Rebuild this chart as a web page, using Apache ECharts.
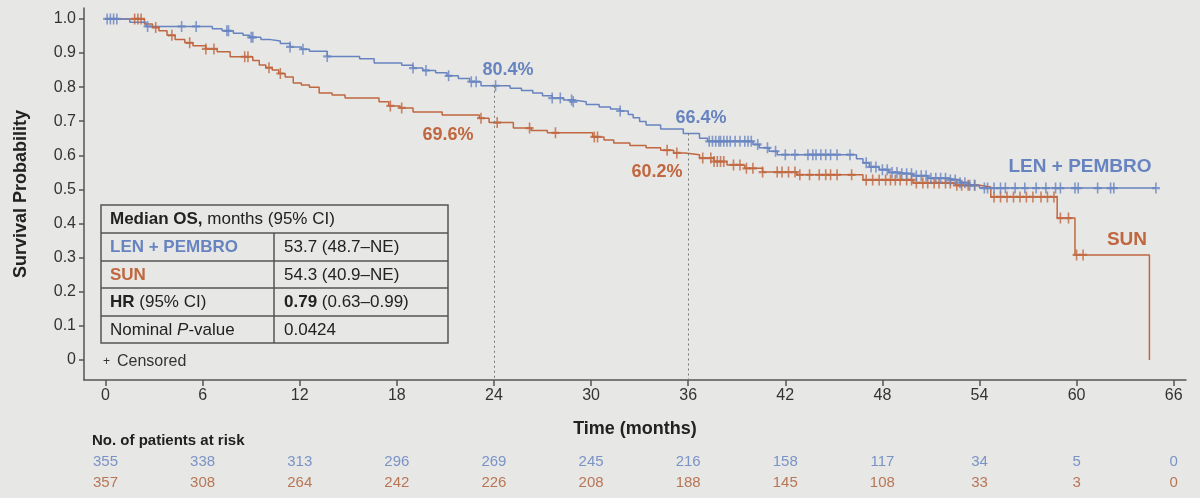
<!DOCTYPE html>
<html>
<head>
<meta charset="utf-8">
<script src="https://cdn.jsdelivr.net/npm/echarts@6/dist/echarts.min.js"></script>
<style>
  html, body { margin: 0; padding: 0; background: #e7e7e5; }
  #main { width: 1200px; height: 498px; }
</style>
</head>
<body>
<div id="main"></div>
<script>
// Kaplan-Meier OS: LEN + PEMBRO vs SUN
var BLUE = '#6884c0';
var RED = '#c0673f';
var FONT = '"Liberation Sans", Arial, sans-serif';

// step points (time in months, survival probability)
var lenTime = [0, 1.5, 2.5, 6.6, 7.2, 7.9, 8.5, 8.9, 9.6, 10.1, 10.8, 11.4, 12.1, 12.6, 13.7, 15.7, 16.6, 18.3, 19.0, 19.6,
  20.4, 21.1, 21.8, 22.5, 23.2, 25.0, 25.7, 26.4, 27.0, 27.6, 28.3, 28.9, 29.7, 30.5, 31.2, 31.8, 32.3, 32.6, 33.0, 33.4,
  34.3, 35.7, 36.7, 37.2, 40.0, 40.4, 41.0, 41.5, 46.4, 46.8, 47.2, 47.8, 48.4, 49.0, 49.9, 50.8, 52.0, 52.8, 53.4, 54.0, 64.9];
var lenSurv = [1.0, 0.99, 0.978, 0.971, 0.965, 0.958, 0.952, 0.946, 0.94, 0.935, 0.928, 0.918, 0.911, 0.905, 0.89, 0.883, 0.871, 0.864, 0.856, 0.849,
  0.842, 0.833, 0.825, 0.816, 0.804, 0.797, 0.79, 0.783, 0.775, 0.768, 0.762, 0.757, 0.749, 0.742, 0.736, 0.73, 0.72, 0.71, 0.699, 0.689,
  0.677, 0.664, 0.65, 0.641, 0.632, 0.622, 0.612, 0.602, 0.59, 0.578, 0.566, 0.558, 0.55, 0.546, 0.54, 0.533, 0.528, 0.52, 0.512, 0.504, 0.504];

var sunTime = [0, 2.4, 2.9, 3.3, 3.8, 4.3, 4.9, 5.4, 6.2, 6.9, 7.7, 9.1, 9.5, 9.9, 10.3, 10.7, 11.1, 11.6, 12.1, 12.6,
  13.2, 14.0, 14.8, 16.9, 17.5, 18.2, 19.0, 20.8, 23.1, 23.7, 25.2, 26.3, 27.3, 30.1, 30.8, 31.4, 32.4, 33.4, 34.3, 35.1,
  35.8, 36.7, 37.6, 38.4, 39.5, 40.6, 42.7, 46.8, 49.9, 52.5, 54.0, 54.7, 58.8, 59.9, 64.5];
var sunSurv = [1.0, 0.985, 0.975, 0.965, 0.952, 0.94, 0.93, 0.921, 0.912, 0.904, 0.889, 0.878, 0.865, 0.857, 0.85, 0.84, 0.83, 0.812, 0.806, 0.8,
  0.783, 0.777, 0.768, 0.757, 0.745, 0.739, 0.727, 0.718, 0.709, 0.696, 0.68, 0.673, 0.666, 0.654, 0.645, 0.636, 0.629, 0.622, 0.615, 0.607,
  0.602, 0.592, 0.582, 0.572, 0.562, 0.551, 0.543, 0.528, 0.519, 0.512, 0.507, 0.478, 0.416, 0.308, 0.0];

// censored times
var lenCensor = [0.1, 0.3, 0.5, 0.7, 2.6, 4.7, 5.6, 7.5, 7.6, 9.0, 9.1, 11.4, 12.2, 13.7, 19.0, 19.8, 21.2, 22.6, 22.9, 24.1,
  27.6, 28.1, 28.8, 28.9, 31.8, 37.3, 37.5, 37.7, 37.9, 38.0, 38.2, 38.4, 38.6, 38.9, 39.2, 39.5, 39.7, 39.9, 40.3, 40.9,
  41.4, 42.0, 42.6, 43.4, 43.7, 43.9, 44.2, 44.5, 44.8, 45.2, 46.0, 47.0, 47.3, 47.6, 48.0, 48.3, 48.6, 48.9, 49.2, 49.5,
  49.8, 50.1, 50.4, 50.7, 51.0, 51.3, 51.6, 51.9, 52.2, 52.5, 52.8, 53.1, 53.4, 53.7, 54.3, 54.5, 54.9, 55.3, 55.6, 56.2,
  56.8, 57.5, 58.1, 58.7, 59.0, 59.9, 60.1, 61.3, 62.1, 62.3, 64.9];
var sunCensor = [1.8, 2.0, 2.2, 3.1, 4.1, 5.2, 6.2, 6.7, 8.6, 8.8, 10.1, 10.8, 17.6, 18.3, 23.2, 24.2, 26.2, 27.8, 30.2, 30.4,
  34.7, 35.3, 36.9, 37.4, 37.6, 37.8, 38.0, 38.2, 38.8, 39.2, 39.6, 40.0, 40.6, 41.5, 41.8, 42.2, 42.6, 42.9, 43.5, 44.1,
  44.5, 44.8, 45.2, 46.1, 47.0, 47.4, 47.8, 48.2, 48.5, 48.8, 49.1, 49.5, 49.8, 50.1, 50.5, 50.8, 51.2, 51.5, 51.9, 52.2,
  52.6, 52.9, 53.3, 53.7, 54.9, 55.3, 55.7, 56.1, 56.5, 56.9, 57.3, 57.8, 58.2, 58.6, 59.0, 59.5, 60.0, 60.4];

// landmarks
var landmarkTimes = [24, 36];
var lenLandmark = [0.804, 0.664];
var sunLandmark = [0.696, 0.602];

// axis ticks
var xTicks = [0, 6, 12, 18, 24, 30, 36, 42, 48, 54, 60, 66];
var yTicks = [0, 0.1, 0.2, 0.3, 0.4, 0.5, 0.6, 0.7, 0.8, 0.9, 1.0];

// at risk
var lenAtRisk = [355, 338, 313, 296, 269, 245, 216, 158, 117, 34, 5, 0];
var sunAtRisk = [357, 308, 264, 242, 226, 208, 188, 145, 108, 33, 3, 0];

var X_MIN = -1.33, X_MAX = 66.76, Y_MIN = -0.0587, Y_MAX = 1.032;

function survAt(times, surv, t) {
    var v = surv[0];
    for (var i = 0; i < times.length; i++) {
        if (times[i] <= t) v = surv[i];
    }
    return v;
}

function zip(a, b) {
    var out = [];
    for (var i = 0; i < a.length; i++) out.push([a[i], b[i]]);
    return out;
}

function censorPoints(cens, times, surv) {
    return cens.map(function (t) { return [t, survAt(times, surv, t)]; });
}

var plusPath = 'path://M4,0H6V4H10V6H6V10H4V6H0V4H4Z';

var chart = echarts.init(document.getElementById('main'));

var option = {
    backgroundColor: '#e7e7e5',
    animation: false,
    textStyle: { fontFamily: FONT },
    grid: { left: 84, right: 14, top: 8, bottom: 118 },
    xAxis: {
        type: 'value',
        min: X_MIN,
        max: X_MAX,
        name: 'Time (months)',
        nameLocation: 'middle',
        nameGap: 40,
        nameTextStyle: { fontFamily: FONT, fontSize: 18, fontWeight: 'bold', color: '#222' },
        splitLine: { show: false },
        axisLine: { onZero: false, lineStyle: { color: '#555', width: 1.5 } },
        axisTick: { customValues: xTicks, length: 6, lineStyle: { color: '#555', width: 1.5 } },
        axisLabel: { customValues: xTicks, fontSize: 16, color: '#333', margin: 8, fontFamily: FONT }
    },
    yAxis: {
        type: 'value',
        min: Y_MIN,
        max: Y_MAX,
        name: 'Survival Probability',
        nameLocation: 'middle',
        nameGap: 54,
        nameTextStyle: { fontFamily: FONT, fontSize: 18, fontWeight: 'bold', color: '#222' },
        splitLine: { show: false },
        axisLine: { show: true, onZero: false, lineStyle: { color: '#555', width: 1.5 } },
        axisTick: { show: true, customValues: yTicks, length: 5, lineStyle: { color: '#555', width: 1.5 } },
        axisLabel: {
            customValues: yTicks, fontSize: 16, color: '#333', margin: 8, fontFamily: FONT,
            formatter: function (v) { return v === 0 ? '0' : v.toFixed(1); }
        }
    },
    series: [
        {
            name: 'LEN + PEMBRO',
            type: 'line',
            step: 'end',
            symbol: 'none',
            data: zip(lenTime, lenSurv),
            lineStyle: { color: BLUE, width: 1.5 },
            z: 3,
            markLine: {
                silent: true,
                symbol: 'none',
                label: { show: false },
                lineStyle: { color: '#777', type: [2, 3], width: 1 },
                data: landmarkTimes.map(function (t, i) {
                    return [{ coord: [t, lenLandmark[i]] }, { coord: [t, Y_MIN] }];
                })
            }
        },
        {
            name: 'SUN',
            type: 'line',
            step: 'end',
            symbol: 'none',
            data: zip(sunTime, sunSurv),
            lineStyle: { color: RED, width: 1.5 },
            z: 2
        },
        {
            name: 'LEN censored',
            type: 'scatter',
            symbol: plusPath,
            symbolSize: [8, 11],
            data: censorPoints(lenCensor, lenTime, lenSurv),
            itemStyle: { color: BLUE },
            z: 4
        },
        {
            name: 'SUN censored',
            type: 'scatter',
            symbol: plusPath,
            symbolSize: [8, 11],
            data: censorPoints(sunCensor, sunTime, sunSurv),
            itemStyle: { color: RED },
            z: 3
        }
    ]
};

chart.setOption(option);

// overlay text: annotations, table, at-risk rows
var g = [];
function txt(x, y, text, style) {
    var s = Object.assign({ text: text, fontFamily: FONT, fontSize: 16, fill: '#222', textAlign: 'left', textVerticalAlign: 'middle' }, style || {});
    g.push({ type: 'text', x: x, y: y, style: s, z: 10 });
}

var pct = function (v) { return (v * 100).toFixed(1) + '%'; };
txt(508, 70, pct(lenLandmark[0]), { fill: BLUE, fontSize: 18, fontWeight: 'bold', textAlign: 'center' });
txt(448, 135, pct(sunLandmark[0]), { fill: RED, fontSize: 18, fontWeight: 'bold', textAlign: 'center' });
txt(701, 118, pct(lenLandmark[1]), { fill: BLUE, fontSize: 18, fontWeight: 'bold', textAlign: 'center' });
txt(657, 172, pct(sunLandmark[1]), { fill: RED, fontSize: 18, fontWeight: 'bold', textAlign: 'center' });
txt(1080, 167, 'LEN + PEMBRO', { fill: BLUE, fontSize: 19, fontWeight: 'bold', textAlign: 'center' });
txt(1127, 240, 'SUN', { fill: RED, fontSize: 19, fontWeight: 'bold', textAlign: 'center' });

// summary table
var tL = 101, tR = 448, tT = 205, tB = 343, tMid = 274;
var rowY = [233, 261, 288, 316];
var lineStyle = { stroke: '#555', lineWidth: 1.5 };
g.push({ type: 'rect', shape: { x: tL, y: tT, width: tR - tL, height: tB - tT }, style: { fill: 'none', stroke: '#555', lineWidth: 1.5 }, z: 9 });
rowY.forEach(function (y) {
    g.push({ type: 'line', shape: { x1: tL, y1: y, x2: tR, y2: y }, style: lineStyle, z: 9 });
});
g.push({ type: 'line', shape: { x1: tMid, y1: rowY[0], x2: tMid, y2: tB }, style: lineStyle, z: 9 });

var rich = {
    b: { fontFamily: FONT, fontSize: 17, fontWeight: 'bold', fill: '#222' },
    n: { fontFamily: FONT, fontSize: 17, fill: '#222' },
    i: { fontFamily: FONT, fontSize: 17, fontStyle: 'italic', fill: '#222' }
};
var ts = { fontSize: 17, rich: rich };
txt(110, 219, '{b|Median OS,}{n| months (95% CI)}', ts);
txt(110, 247, 'LEN + PEMBRO', { fontSize: 17, fontWeight: 'bold', fill: BLUE });
txt(110, 275, 'SUN', { fontSize: 17, fontWeight: 'bold', fill: RED });
txt(110, 302, '{b|HR}{n| (95% CI)}', ts);
txt(110, 330, '{n|Nominal }{i|P}{n|-value}', ts);
txt(284, 247, '53.7 (48.7\u2013NE)', { fontSize: 17 });
txt(284, 275, '54.3 (40.9\u2013NE)', { fontSize: 17 });
txt(284, 302, '{b|0.79}{n| (0.63\u20130.99)}', ts);
txt(284, 330, '0.0424', { fontSize: 17 });
txt(103, 362, '+', { fontSize: 12, fill: '#333' });
txt(117, 362, 'Censored', { fontSize: 16, fill: '#333' });

// at risk
txt(92, 441, 'No. of patients at risk', { fontSize: 15, fontWeight: 'bold' });
xTicks.forEach(function (t, i) {
    var px = chart.convertToPixel({ xAxisIndex: 0 }, t);
    txt(px, 462, String(lenAtRisk[i]), { fontSize: 15, fill: '#7a93c6', textAlign: 'center' });
    txt(px, 483, String(sunAtRisk[i]), { fontSize: 15, fill: '#b87656', textAlign: 'center' });
});

chart.setOption({ graphic: g });
</script>
</body>
</html>
